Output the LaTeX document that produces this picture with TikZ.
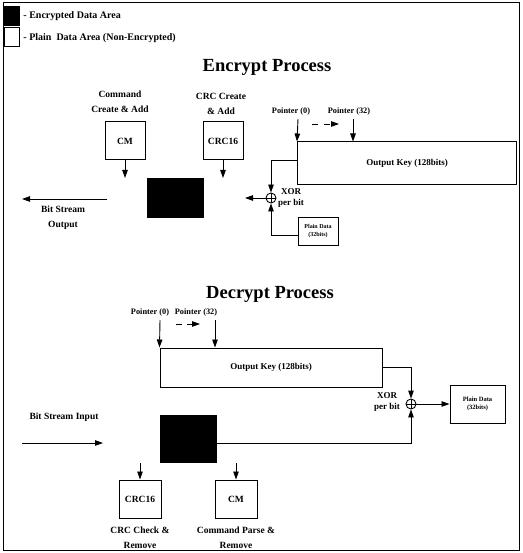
\documentclass[tikz,border=0pt]{standalone}
\usepackage{fontspec}
\setmainfont{Liberation Serif}
\usetikzlibrary{arrows.meta}
\begin{document}
\begin{tikzpicture}[x=1pt,y=-1pt,
  line width=0.9pt,
  arr/.style={-{Triangle[length=8pt,width=5.5pt]}},
  sbox/.style={draw, line width=1pt, inner sep=0pt, align=center, font=\bfseries\fontsize{9.5}{11}\selectfont},
  lbl/.style={font=\bfseries\fontsize{9.5}{15}\selectfont, align=center, inner sep=0pt},
  xlbl/.style={font=\bfseries\fontsize{9}{11.5}\selectfont, align=center, inner sep=0pt},
  ptr/.style={font=\bfseries\fontsize{8.3}{10}\selectfont, inner sep=0pt},
  ttl/.style={font=\bfseries\fontsize{18.5}{20}\selectfont, inner sep=0pt},
  blk/.style={draw, fill=black, inner sep=0pt},
  xorc/.style={draw, circle, minimum size=10pt, inner sep=0pt},
  tinyt/.style={font=\bfseries\fontsize{6}{8}\selectfont},
  leg/.style={anchor=west, font=\bfseries\fontsize{10}{12}\selectfont, inner sep=0pt}
]
\useasboundingbox (0,0) rectangle (522,553);
\draw[line width=1pt] (3,3) rectangle (519,550);

% legend
\node[blk, minimum width=15pt, minimum height=19pt] (legE) at (11.5,15.5) {};
\node[draw, line width=1pt, minimum width=15pt, minimum height=19pt, inner sep=0pt] (legP) at (11.5,37.5) {};
\node[leg] (legEt) at (23,16) {- Encrypted Data Area};
\node[leg] (legPt) at (23,38) {- Plain\ \ Data Area (Non-Encrypted)};

% ---------------- Encrypt ----------------
\node[ttl] (etitle) at (267,67) {Encrypt Process};
\node[sbox, minimum width=40pt, minimum height=38pt] (ecm) at (125,141) {CM};
\node[lbl] (ecml) at (120,102) {Command\\Create \& Add};
\node[sbox, minimum width=40pt, minimum height=38pt] (ecrc) at (223,141) {CRC16};
\node[lbl] (ecrcl) at (221,104) {CRC Create\\\& Add};
\node[blk, minimum width=56pt, minimum height=39pt] (eblk) at (175,197.5) {};
\coordinate (ecmb) at (125,178);
\draw[arr] (ecm.south) -- (ecmb);
\coordinate (ecrcb) at (223,178);
\draw[arr] (ecrc.south) -- (ecrcb);
\coordinate (eo1) at (107,199);
\coordinate (eo2) at (22,199);
\draw[arr] (eo1) -- (eo2);
\node[lbl] (eol) at (63,218) {Bit Stream\\Output};

\node[sbox, minimum width=219pt, minimum height=43pt, font=\bfseries\fontsize{9}{11}\selectfont] (ekey) at (407,163.5) {Output Key (128bits)};
\node[xorc] (exor) at (271,198) {};
\draw (exor.north) -- (exor.south) (exor.west) -- (exor.east);
\coordinate (exo) at (245,198);
\draw[arr] (exor.west) -- (exo);
\node[xlbl] (exl) at (291,198) {XOR\\per bit};
\node[sbox, tinyt, minimum width=40pt, minimum height=28pt] (eplain) at (318,231) {Plain Data\\(32bits)};
\draw[arr] ([yshift=3.5pt]ekey.west) -| (exor.north);
\draw[arr] ([yshift=-4pt]eplain.west) -| (exor.south);

\node[ptr] (ep0) at (291,112) {Pointer (0)};
\node[ptr] (ep32) at (349,112) {Pointer (32)};
\coordinate (ep0a) at (298,119);
\draw[arr] (ep0a) -- (ekey.north west);
\coordinate (ep32a) at (353,119);
\draw[arr] (ep32a) -- (ep32a |- ekey.north);
\coordinate (epd1) at (312,124);
\coordinate (epd2) at (339,124);
\draw[arr, dash pattern=on 6pt off 6pt] (epd1) -- (epd2);

% ---------------- Decrypt ----------------
\node[ttl] (dtitle) at (270,294) {Decrypt Process};
\node[ptr] (dp0) at (150,313) {Pointer (0)};
\node[ptr] (dp32) at (196,313) {Pointer (32)};
\node[sbox, minimum width=222pt, minimum height=39pt, font=\bfseries\fontsize{9}{11}\selectfont] (dkey) at (271,367.5) {Output Key (128bits)};
\coordinate (dp0a) at (160,320);
\draw[arr] (dp0a) -- (dkey.north west);
\coordinate (dp32a) at (215,320);
\draw[arr] (dp32a) -- (dp32a |- dkey.north);
\coordinate (dpd1) at (176,324);
\coordinate (dpd2) at (200,324);
\draw[arr, dash pattern=on 6pt off 5pt] (dpd1) -- (dpd2);

\node[xorc] (dxor) at (411,404) {};
\draw (dxor.north) -- (dxor.south) (dxor.west) -- (dxor.east);
\draw[arr] (dkey.east) -| (dxor.north);
\node[xlbl] (dxl) at (387,402) {XOR\\per bit};
\node[sbox, font=\bfseries\fontsize{6.5}{8.5}\selectfont, minimum width=55pt, minimum height=38pt] (dplain) at (477.5,404) {Plain Data\\(32bits)};
\draw[arr] (dxor.east) -- (dplain.west);

\node[blk, minimum width=56pt, minimum height=47pt] (dblk) at (188,438.5) {};
\draw[arr] ([yshift=-4.5pt]dblk.east) -| (dxor.south);
\coordinate (di1) at (22,443);
\coordinate (di2) at (103,443);
\draw[arr] (di1) -- (di2);
\node[lbl] (dil) at (64,417) {Bit Stream Input};

\node[sbox, minimum width=42pt, minimum height=38pt] (dcrc) at (140,499) {CRC16};
\node[sbox, minimum width=42pt, minimum height=38pt] (dcm) at (236,499) {CM};
\coordinate (dcrct) at (140,463);
\draw[arr] (dcrct) -- (dcrc.north);
\coordinate (dcmt) at (236,463);
\draw[arr] (dcmt) -- (dcm.north);
\node[lbl] (dcrcl) at (140,537.5) {CRC Check \&\\Remove};
\node[lbl] (dcml) at (236,537.5) {Command Parse \&\\Remove};
\end{tikzpicture}
\end{document}
